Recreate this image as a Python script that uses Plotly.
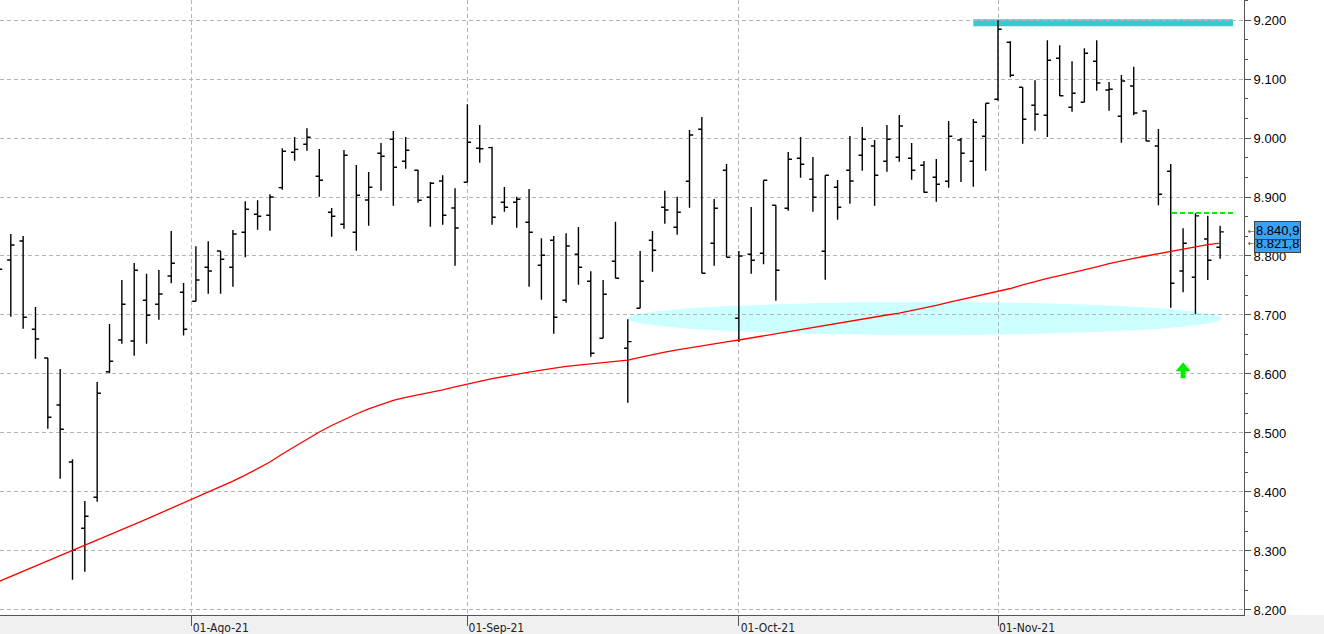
import pandas as pd
import plotly.graph_objects as go

# ---------------- data ----------------
dates = pd.bdate_range("2021-07-09", "2021-11-25")  # 100 trading sessions

open_ = [8789.8, 8793.2, 8825.4, 8675.8, 8627.1, 8547.5, 8450.9, 8338.5, 8391.0, 8603.9,
         8657.6, 8655.9, 8724.9, 8718.1, 8766.1, 8738.5, 8723.2, 8780.9, 8808.5, 8780.9,
         8840.2, 8870.7, 8869.0, 8915.8, 8975.8, 8989.3, 8935.1, 8874.1, 8853.7, 8840.2,
         8894.9, 8974.1, 8997.8, 8960.5, 8945.3, 8899.5, 8927.1, 8881.4, 8924.9, 8982.5,
         8983.6, 8891.0, 8891.0, 8857.1, 8784.2, 8826.6, 8724.9, 8802.9, 8757.1, 8660.5,
         8791.0, 8643.6, 8711.4, 8826.6, 8882.5, 8848.6, 8926.6, 9014.7, 8821.5, 8945.3,
         8694.4, 8802.9, 8804.6, 8885.9, 8880.8, 8965.6, 8930.0, 8808.0, 8916.4, 8945.3,
         8970.7, 8986.4, 8960.5, 8967.3, 8965.6, 8953.7, 8933.4, 8926.6, 8996.6, 8960.5,
         9002.9, 9065.6, 9162.2, 9085.9, 9055.4, 9038.5, 9135.1, 9052.0, 9060.5, 9130.0,
         9081.4, 9036.8, 9088.1, 9045.8, 8986.4, 8943.6, 8774.6, 8763.9, 8828.8, 8814.7]

high = [8810.2, 8837.3, 8833.9, 8713.6, 8627.1, 8608.5, 8455.4, 8384.8, 8586.4, 8684.7,
        8759.3, 8788.1, 8770.0, 8776.3, 8842.4, 8754.2, 8816.4, 8824.9, 8808.5, 8844.1,
        8892.7, 8894.4, 8904.6, 8982.5, 9001.7, 9016.4, 8981.4, 8881.4, 8979.7, 8954.2,
        8942.4, 8991.5, 9011.9, 9001.7, 8946.3, 8925.4, 8936.8, 8914.7, 9057.1, 9022.0,
        8985.3, 8917.0, 8900.5, 8913.6, 8830.0, 8833.9, 8838.5, 8849.2, 8774.1, 8759.3,
        8858.1, 8692.7, 8808.5, 8842.4, 8910.7, 8900.5, 9013.6, 9035.6, 8896.6, 8955.9,
        8808.5, 8883.1, 8928.3, 8885.9, 8976.3, 9001.7, 8967.8, 8936.8, 8928.8, 9003.4,
        9018.6, 8996.6, 9022.0, 9039.0, 8991.5, 8961.0, 8964.4, 9028.8, 9000.0, 9032.2,
        9058.8, 9199.5, 9163.9, 9085.9, 9097.8, 9165.6, 9157.1, 9130.0, 9152.0, 9165.6,
        9094.9, 9106.8, 9120.8, 9047.0, 9015.3, 8955.9, 8847.0, 8872.4, 8868.3, 8851.4]

low = [8742.4, 8697.1, 8676.8, 8625.9, 8507.3, 8422.6, 8251.4, 8264.9, 8383.6, 8601.2,
       8651.4, 8631.0, 8651.4, 8692.0, 8753.7, 8665.3, 8723.2, 8736.1, 8736.1, 8748.0,
       8797.8, 8844.6, 8842.9, 8912.4, 8961.5, 8978.5, 8900.5, 8832.7, 8846.3, 8809.0,
       8851.4, 8910.7, 8885.3, 8948.0, 8890.3, 8849.7, 8853.1, 8783.6, 8924.9, 8958.1,
       8853.1, 8875.1, 8848.0, 8748.0, 8725.9, 8668.3, 8720.9, 8751.4, 8629.3, 8660.5,
       8762.2, 8551.4, 8711.4, 8773.4, 8854.8, 8836.1, 8881.9, 8770.7, 8783.6, 8797.8,
       8654.2, 8770.0, 8785.9, 8724.2, 8876.8, 8932.7, 8875.1, 8759.8, 8861.5, 8888.7,
       8944.6, 8885.3, 8942.9, 8959.8, 8929.3, 8907.3, 8892.0, 8915.8, 8925.4, 8917.5,
       8944.6, 9063.2, 9102.9, 8990.3, 9012.4, 9001.7, 9071.2, 9044.6, 9060.5, 9080.2,
       9046.3, 8992.0, 9038.5, 8994.4, 8885.9, 8712.4, 8738.5, 8701.2, 8759.3, 8795.4]

close = [8777.5, 8818.6, 8696.1, 8659.3, 8526.6, 8506.3, 8301.7, 8358.8, 8567.3, 8621.5,
         8718.1, 8775.8, 8699.5, 8735.6, 8787.6, 8675.8, 8759.3, 8774.6, 8794.4, 8837.3,
         8879.2, 8867.3, 8900.0, 8977.5, 8980.8, 9001.2, 8928.3, 8867.3, 8970.7, 8902.9,
         8916.4, 8969.0, 8950.3, 8979.2, 8894.4, 8923.2, 8869.0, 8847.5, 8992.7, 8981.7,
         8865.6, 8882.5, 8896.1, 8840.2, 8801.2, 8696.1, 8817.0, 8780.9, 8635.1, 8735.1,
         8762.2, 8654.8, 8757.1, 8809.7, 8878.0, 8874.1, 9005.1, 8770.7, 8880.8, 8797.8,
         8800.0, 8792.7, 8928.3, 8775.8, 8963.9, 8955.4, 8899.5, 8936.8, 8882.5, 8927.1,
         8997.8, 8936.8, 8997.8, 9020.3, 8945.3, 8908.0, 8921.5, 9002.9, 8974.1, 9026.6,
         9058.8, 9184.2, 9106.3, 9031.7, 9040.2, 9131.7, 9071.7, 9075.8, 9143.6, 9093.2,
         9082.5, 9096.6, 9042.4, 8994.9, 8904.6, 8753.7, 8821.5, 8868.0, 8792.7, 8840.9]

ma = [8248.1, 8256.8, 8265.6, 8274.2, 8283.1, 8291.7, 8300.4, 8309.2, 8318.1, 8327.1,
      8336.1, 8345.1, 8354.1, 8363.1, 8372.2, 8381.2, 8390.2, 8399.5, 8409.0, 8418.3,
      8428.5, 8439.7, 8450.9, 8464.4, 8477.1, 8489.8, 8501.7, 8512.7, 8522.9, 8532.2,
      8540.7, 8548.3, 8555.1, 8560.2, 8564.4, 8568.1, 8573.1, 8578.1, 8583.2, 8587.6,
      8592.0, 8596.1, 8599.7, 8603.2, 8606.6, 8610.2, 8612.9, 8614.9, 8617.1, 8619.2,
      8621.4, 8623.6, 8628.0, 8632.7, 8637.1, 8640.7, 8644.4, 8648.0, 8651.2, 8654.4,
      8657.6, 8661.2, 8664.8, 8668.3, 8672.0, 8675.6, 8679.3, 8682.9, 8686.6, 8690.3,
      8693.7, 8697.0, 8700.0, 8703.2, 8707.3, 8711.7, 8716.4, 8721.2, 8725.8, 8730.2,
      8734.6, 8739.0, 8744.9, 8751.0, 8757.0, 8762.2, 8766.8, 8771.5, 8776.4, 8781.7,
      8787.0, 8792.0, 8795.9, 8800.0, 8804.1, 8808.1, 8811.9, 8815.4, 8819.2, 8821.8]

month_starts = ["2021-08-01", "2021-09-01", "2021-10-01", "2021-11-01"]
month_labels = ["01-Ago-21", "01-Sep-21", "01-Oct-21", "01-Nov-21"]

y_ticks = [8200, 8300, 8400, 8500, 8600, 8700, 8800, 8900, 9000, 9100, 9200]

resistance = 9195.5      # top teal band
short_res = 8873.0       # green dashed line
support_zone = (8666.0, 8722.0)
arrow_price = 8620.0

# ---------------- positions ----------------
x = list(range(len(dates)))


def session_pos(day):
    """fractional session index of a calendar day (for month grid lines)"""
    d = pd.Timestamp(day)
    after = [i for i, t in enumerate(dates) if t >= d][0]
    if dates[after] == d or after == 0:
        return float(after)
    prev = dates[after - 1]
    frac = (d - prev).days / (dates[after] - prev).days
    return after - 1 + frac


tick_pos = [session_pos(d) for d in month_starts]
idx = {t.strftime("%Y-%m-%d"): i for i, t in enumerate(dates)}

grid_col = "#b4b4b4"
axis_col = "#555555"
green = "#00ee00"

fig = go.Figure()

fig.add_trace(go.Ohlc(
    x=x, open=open_, high=high, low=low, close=close,
    increasing=dict(line=dict(color="black", width=1.4)),
    decreasing=dict(line=dict(color="black", width=1.4)),
    tickwidth=0.3, hoverinfo="skip", showlegend=False,
))

fig.add_trace(go.Scatter(
    x=x, y=ma, mode="lines", line=dict(color="#ff0000", width=1.3),
    hoverinfo="skip", showlegend=False,
))

arrow_x = idx["2021-11-22"]

shapes = [
    # support ellipse
    dict(type="circle", xref="x", yref="y",
         x0=50.98, x1=99.1, y0=support_zone[0], y1=support_zone[1],
         fillcolor="#ccffff", line=dict(width=0), layer="below"),
    # resistance band
    dict(type="line", xref="x", yref="y", x0=idx["2021-10-28"], x1=100.04,
         y0=resistance, y1=resistance, line=dict(color="#33cccc", width=7), layer="below"),
    # green dashed line
    dict(type="line", xref="x", yref="y", x0=95.1, x1=100.04,
         y0=short_res, y1=short_res, line=dict(color=green, width=2, dash="5px,3px"),
         layer="above"),
    # bottom grey strip
    dict(type="rect", xref="paper", yref="paper", x0=0, x1=1324 / 1244,
         y0=-19 / 615, y1=0, fillcolor="#f0f0f0", line=dict(width=0), layer="below"),
    # green up arrow: head + shaft (pixel sized, anchored at the tip)
    dict(type="path", xref="x", yref="y", xsizemode="pixel", ysizemode="pixel",
         xanchor=arrow_x, yanchor=arrow_price,
         path="M0,0 L-7.5,-9 L7.5,-9 Z", fillcolor=green, line=dict(width=0)),
    dict(type="rect", xref="x", yref="y", xsizemode="pixel", ysizemode="pixel",
         xanchor=arrow_x, yanchor=arrow_price,
         x0=-2.5, x1=2.5, y0=-16, y1=-8.5, fillcolor=green, line=dict(width=0)),
]

annotations = [
    dict(x=1254 / 1244, y=ma[-1], xref="paper", yref="y", xanchor="left", yanchor="middle",
         text="8.821,8", showarrow=False, font=dict(family="Liberation Sans, Arial", size=13, color="black"),
         bgcolor="#3aa2f2", bordercolor="#404040", borderwidth=1, borderpad=1),
    dict(x=1254 / 1244, y=8842.5, xref="paper", yref="y", xanchor="left", yanchor="middle",
         text="8.840,9", showarrow=False, font=dict(family="Liberation Sans, Arial", size=13, color="black"),
         bgcolor="#3aa2f2", bordercolor="#404040", borderwidth=1, borderpad=1),
    dict(x=1246 / 1244, y=close[-1], xref="paper", yref="y", xanchor="left", yanchor="middle",
         text="←", showarrow=False, font=dict(family="DejaVu Sans", size=8, color="#404040")),
    dict(x=1246 / 1244, y=ma[-1], xref="paper", yref="y", xanchor="left", yanchor="middle",
         text="←", showarrow=False, font=dict(family="DejaVu Sans", size=8, color="#404040")),
]

fig.update_layout(
    width=1324, height=634,
    margin=dict(l=0, r=80, t=0, b=19, pad=0),
    paper_bgcolor="white", plot_bgcolor="white",
    separators=",.",
    showlegend=False, hovermode=False,
    shapes=shapes, annotations=annotations,
    xaxis=dict(
        type="linear", range=[0.125, 100.935], rangeslider=dict(visible=False),
        tickmode="array", tickvals=tick_pos, ticktext=month_labels,
        showgrid=True, gridcolor=grid_col, griddash="4px,3px", gridwidth=1,
        zeroline=False, showline=True, linecolor=axis_col, linewidth=1,
        ticks="outside", ticklen=10, tickcolor=axis_col,
        ticklabelshift=29, ticklabelstandoff=-8,
        tickfont=dict(family="Liberation Sans Narrow, DejaVu Sans Condensed, Liberation Mono", size=12, color="#222222"),
    ),
    yaxis=dict(
        side="right", range=[8191.5, 9233.9],
        tickmode="array", tickvals=y_ticks, tickformat=",d",
        showgrid=True, gridcolor=grid_col, griddash="4px,3px", gridwidth=1,
        zeroline=False, showline=True, linecolor=axis_col, linewidth=1,
        ticks="outside", ticklen=6, tickcolor=axis_col,
        minor=dict(dtick=100 / 3, ticks="outside", ticklen=3, tickcolor=axis_col, showgrid=False),
        tickfont=dict(family="Liberation Sans, Arial", size=13, color="black"),
    ),
)

fig.write_html("out.html")
